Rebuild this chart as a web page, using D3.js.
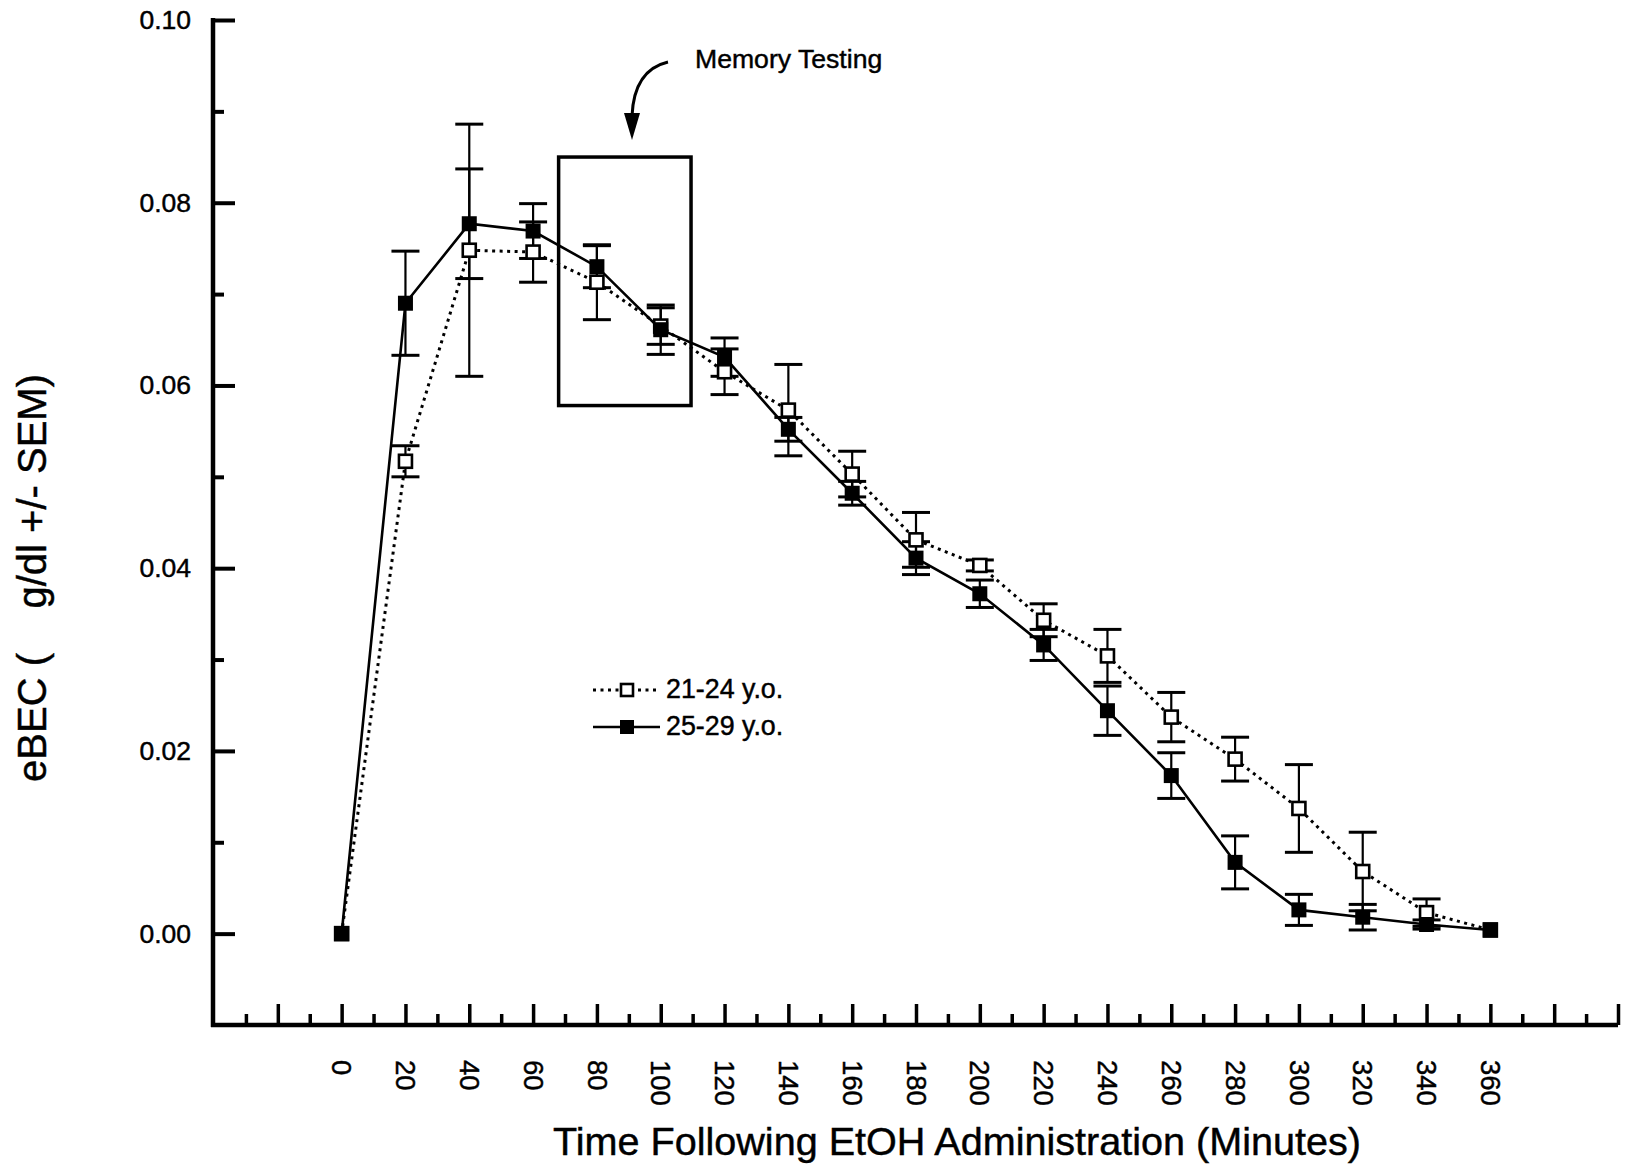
<!DOCTYPE html>
<html>
<head>
<meta charset="utf-8">
<title>eBEC by time following EtOH administration</title>
<script src="https://cdn.jsdelivr.net/npm/d3@7"></script>
<style>
  html, body { margin: 0; padding: 0; background: #fff; }
  svg { display: block; }
  text { font-family: "Liberation Sans", Arial, Helvetica, sans-serif; fill: #000; stroke: #000; stroke-width: 0.45px; }
</style>
</head>
<body>
<svg id="chart" width="1627" height="1166"></svg>
<script>
// Sampling times (minutes after EtOH administration)
const minutes = [0, 20, 40, 60, 80, 100, 120, 140, 160, 180, 200, 220, 240, 260, 280, 300, 320, 340, 360];

// 21-24 y.o. group: mean eBEC and SEM (g/dl)
const youngMean = [0, 0.0517, 0.0748, 0.0746, 0.0713, 0.0665, 0.0615, 0.0573, 0.0503, 0.0431, 0.0403, 0.0343, 0.0304, 0.0237, 0.0191, 0.0137, 0.0068, 0.0023, 0.0004];
const youngSem  = [0, 0.0017, 0.0138, 0.0033, 0.0041, 0.0020, 0.0025, 0.0050, 0.0025, 0.0030, 0.0006, 0.0018, 0.0029, 0.0027, 0.0024, 0.0048, 0.0043, 0.0015, 0];

// 25-29 y.o. group: mean eBEC and SEM (g/dl)
const olderMean = [0, 0.0690, 0.0777, 0.0769, 0.0730, 0.0661, 0.0631, 0.0552, 0.0482, 0.0411, 0.0372, 0.0316, 0.0244, 0.0173, 0.0078, 0.0026, 0.0018, 0.0010, 0.0004];
const olderSem  = [0, 0.0057, 0.0060, 0.0030, 0.0023, 0.0027, 0.0021, 0.0013, 0.0013, 0.0018, 0.0015, 0.0017, 0.0027, 0.0025, 0.0029, 0.0017, 0.0014, 0.0005, 0];

// Axis ticks
const yMajorTicks = [0, 0.02, 0.04, 0.06, 0.08, 0.10];
const yMinorTicks = [0.01, 0.03, 0.05, 0.07, 0.09];
const xMajorTicks = d3.range(-20, 401, 20);
const xMinorTicks = d3.range(-30, 400, 20);
const xLabelTicks = d3.range(0, 361, 20);

// Memory testing window (minutes, eBEC)
const memoryMinutes = [68, 109.5];
const memoryRange = [0.0578, 0.085];

const seriesNames = ["21-24 y.o.", "25-29 y.o."];

const svg = d3.select("#chart");

const x = d3.scaleLinear().domain([-40, 400]).range([214, 1618]);
const y = d3.scaleLinear().domain([-0.01, 0.10]).range([1025, 20]);

const X0 = x.range()[0] - 1;   // y-axis line position
const Y0 = y.range()[0];       // x-axis line position
const FONT = "\"Liberation Sans\", Arial, sans-serif";

// ---- Y axis ----
const yMajor = svg.append("g").attr("transform", `translate(${X0},0)`)
  .call(d3.axisLeft(y).tickValues(yMajorTicks).tickSize(-22).tickPadding(22)
    .tickFormat(d3.format(".2f")));
const yMinor = svg.append("g").attr("transform", `translate(${X0},0)`)
  .call(d3.axisLeft(y).tickValues(yMinorTicks).tickSize(-11).tickFormat(""));
[yMajor, yMinor].forEach(g => {
  g.select(".domain").remove();
  g.selectAll(".tick line").attr("stroke", "#000").attr("stroke-width", 4);
});
yMajor.selectAll(".tick text").attr("font-size", 26.5).attr("fill", "#000")
  .attr("font-family", FONT);

// ---- X axis ----
const xMajor = svg.append("g").attr("transform", `translate(0,${Y0})`)
  .call(d3.axisBottom(x).tickValues(xMajorTicks).tickSize(-21)
    .tickFormat(d => xLabelTicks.includes(d) ? String(d) : ""));
const xMinor = svg.append("g").attr("transform", `translate(0,${Y0})`)
  .call(d3.axisBottom(x).tickValues(xMinorTicks).tickSize(-11).tickFormat(""));
[xMajor, xMinor].forEach(g => {
  g.select(".domain").remove();
  g.selectAll(".tick line").attr("stroke", "#000").attr("stroke-width", 3.5);
});
xMajor.selectAll(".tick text")
  .attr("font-size", 27.5)
  .attr("font-family", FONT)
  .attr("fill", "#000")
  .attr("text-anchor", "start")
  .attr("x", 0).attr("y", 0).attr("dy", "0.36em")
  .attr("transform", "translate(0,35) rotate(90)");

// Axis lines
svg.append("line").attr("x1", X0).attr("x2", X0)
  .attr("y1", y(0.10) - 2).attr("y2", Y0 + 2)
  .attr("stroke", "#000").attr("stroke-width", 4.5);
svg.append("line").attr("x1", X0 - 2).attr("x2", x(400))
  .attr("y1", Y0).attr("y2", Y0)
  .attr("stroke", "#000").attr("stroke-width", 4.5);

// Axis titles
svg.append("text")
  .attr("x", 957).attr("y", 1155)
  .attr("text-anchor", "middle")
  .attr("font-size", 39.6)
  .text("Time Following EtOH Administration (Minutes)");

svg.append("text")
  .attr("transform", "translate(46,578) rotate(-90)")
  .attr("text-anchor", "middle")
  .attr("font-size", 40)
  .attr("xml:space", "preserve")
  .style("white-space", "pre")
  .text("eBEC (    g/dl +/- SEM)");

// ---- Memory testing annotation ----
svg.append("rect")
  .attr("x", x(memoryMinutes[0])).attr("y", y(memoryRange[1]))
  .attr("width", x(memoryMinutes[1]) - x(memoryMinutes[0]))
  .attr("height", y(memoryRange[0]) - y(memoryRange[1]))
  .attr("fill", "none").attr("stroke", "#000").attr("stroke-width", 3.5);

svg.append("path")
  .attr("d", "M668,62 Q634,70 632,116")
  .attr("fill", "none").attr("stroke", "#000").attr("stroke-width", 3);
svg.append("path")
  .attr("d", "M624,113 L640,113 L632,140 Z")
  .attr("fill", "#000");

svg.append("text")
  .attr("x", 695).attr("y", 68)
  .attr("font-size", 26.6)
  .text("Memory Testing");

// ---- Data series ----
const young = minutes.map((m, i) => ({ m, v: youngMean[i], s: youngSem[i] }));
const older = minutes.map((m, i) => ({ m, v: olderMean[i], s: olderSem[i] }));

const line = d3.line().x(d => x(d.m)).y(d => y(d.v));

svg.append("path").datum(young).attr("d", line)
  .attr("fill", "none").attr("stroke", "#000").attr("stroke-width", 3)
  .attr("stroke-dasharray", "3,4.5");
svg.append("path").datum(older).attr("d", line)
  .attr("fill", "none").attr("stroke", "#000").attr("stroke-width", 2.6);

function errorBars(data) {
  const g = svg.append("g");
  const bars = g.selectAll("g").data(data.filter(d => d.s > 0)).join("g");
  bars.append("line")
    .attr("x1", d => x(d.m)).attr("x2", d => x(d.m))
    .attr("y1", d => y(d.v + d.s)).attr("y2", d => y(d.v - d.s))
    .attr("stroke", "#000").attr("stroke-width", 2.2);
  [1, -1].forEach(sign => {
    bars.append("line")
      .attr("x1", d => x(d.m) - 14).attr("x2", d => x(d.m) + 14)
      .attr("y1", d => y(d.v + sign * d.s)).attr("y2", d => y(d.v + sign * d.s))
      .attr("stroke", "#000").attr("stroke-width", 3);
  });
}
errorBars(young);
errorBars(older);

// Open squares: 21-24 y.o.
svg.append("g").selectAll("rect").data(young).join("rect")
  .attr("x", d => x(d.m) - 6.5).attr("y", d => y(d.v) - 6.5)
  .attr("width", 13).attr("height", 13)
  .attr("fill", "#fff").attr("stroke", "#000").attr("stroke-width", 2.6);

// Filled squares: 25-29 y.o.
svg.append("g").selectAll("rect").data(older).join("rect")
  .attr("x", d => x(d.m) - 7.5).attr("y", d => y(d.v) - 7.5)
  .attr("width", 15).attr("height", 15)
  .attr("fill", "#000");

// ---- Legend ----
const legend = svg.append("g");
const legendRows = [
  { name: seriesNames[0], cy: 690, dashed: true, x2: 656 },
  { name: seriesNames[1], cy: 727, dashed: false, x2: 660 }
];
legendRows.forEach(r => {
  legend.append("line")
    .attr("x1", 593).attr("x2", r.x2).attr("y1", r.cy).attr("y2", r.cy)
    .attr("stroke", "#000")
    .attr("stroke-width", r.dashed ? 3 : 2.6)
    .attr("stroke-dasharray", r.dashed ? "3,4.5" : null);
  if (r.dashed) {
    legend.append("rect").attr("x", 621).attr("y", r.cy - 6)
      .attr("width", 12).attr("height", 12)
      .attr("fill", "#fff").attr("stroke", "#000").attr("stroke-width", 2.6);
  } else {
    legend.append("rect").attr("x", 620).attr("y", r.cy - 7)
      .attr("width", 14).attr("height", 14).attr("fill", "#000");
  }
  legend.append("text")
    .attr("x", 666).attr("y", r.cy + 8)
    .attr("font-size", 26.8)
    .text(r.name);
});
</script>
</body>
</html>
